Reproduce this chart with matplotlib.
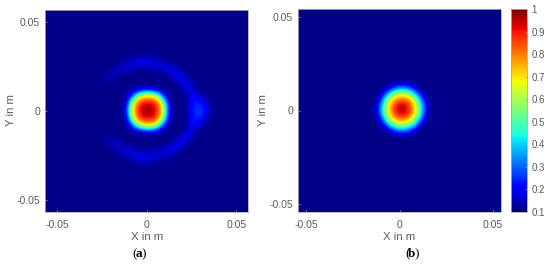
import numpy as np
import matplotlib
matplotlib.use("Agg")
import matplotlib.pyplot as plt
from matplotlib.colors import Normalize

plt.rcParams['font.family'] = ['Liberation Sans', 'DejaVu Sans']

W, H = 550, 265
_ = 0.11  # background level

# Panel (a): x = -30..36 mm, y = 33..-33 mm, 3 mm spacing
field_a = [
 [_,_,_,_,_,_,_,_,_,_,_,_,_,_,_,_,_,_,_,_,_,_,_],
 [_,_,_,_,_,_,_,_,.13,.14,.14,.13,.12,_,_,_,_,_,_,_,_,_,_],
 [_,_,_,_,_,_,.14,.17,.19,.20,.19,.18,.16,.14,_,_,_,_,_,_,_,_,_],
 [_,_,_,_,.14,.17,.19,.18,.14,.12,.14,.16,.18,.19,.19,.16,_,_,_,_,_,_,_],
 [_,_,_,.14,.16,.14,_,_,_,_,_,_,_,_,.17,.20,.18,.13,_,_,_,_,_],
 [_,_,.14,.14,.12,_,_,_,_,_,_,_,_,_,_,.16,.20,.17,_,_,_,_,_],
 [_,_,_,_,_,_,_,_,_,_,_,_,_,_,_,_,.14,.20,.16,_,_,_,_],
 [_,_,_,_,_,_,_,.13,.14,.15,.2,.16,.13,.12,_,_,_,.18,.18,.13,_,_,_],
 [_,_,_,_,_,_,_,.2,.4,.58,.62,.6,.42,.2,_,_,_,_,.19,.18,.13,_,_],
 [_,_,_,_,_,_,.13,.4,.72,.82,.84,.82,.74,.42,.13,_,_,_,.19,.23,.19,.13,_],
 [_,_,_,_,_,_,.16,.58,.82,.92,.95,.93,.84,.6,.17,_,_,_,.20,.25,.25,.17,_],
 [_,_,_,_,_,_,.2,.62,.84,.95,1.0,.96,.85,.63,.2,_,_,_,.20,.26,.26,.19,_],
 [_,_,_,_,_,_,.16,.58,.82,.92,.95,.93,.84,.6,.17,_,_,_,.20,.25,.25,.17,_],
 [_,_,_,_,_,_,.13,.4,.72,.82,.84,.82,.74,.42,.13,_,_,_,.19,.23,.19,.13,_],
 [_,_,_,_,_,_,_,.2,.4,.58,.62,.6,.42,.2,_,_,_,_,.20,.18,.13,_,_],
 [_,_,_,_,_,_,_,.12,.13,.15,.19,.16,.13,.12,_,_,_,.17,.19,.14,_,_,_],
 [_,_,.13,.14,_,_,_,_,_,_,_,_,_,_,_,_,.16,.20,.16,_,_,_,_],
 [_,_,_,.14,.16,.14,_,_,_,_,_,_,_,_,_,.17,.20,.17,_,_,_,_,_],
 [_,_,_,_,.14,.17,.16,.14,_,_,_,_,_,.14,.19,.20,.17,_,_,_,_,_,_],
 [_,_,_,_,_,.14,.17,.19,.18,.16,.16,.17,.18,.19,.18,.14,_,_,_,_,_,_,_],
 [_,_,_,_,_,_,_,.14,.19,.20,.19,.17,.14,.12,_,_,_,_,_,_,_,_,_],
 [_,_,_,_,_,_,_,_,_,.13,.13,_,_,_,_,_,_,_,_,_,_,_,_],
 [_,_,_,_,_,_,_,_,_,_,_,_,_,_,_,_,_,_,_,_,_,_,_],
]
extent_a = [-0.0315 + 0.0007, 0.0375 + 0.0007, -0.0345 + 0.0005, 0.0345 + 0.0005]

# Panel (b): x, y = +-15 mm, 3 mm spacing
field_b = [
 [_,_,_,_,_,_,_,_,_,_,_],
 [_,_,_,.15,.24,.28,.24,.15,_,_,_],
 [_,_,.2,.40,.52,.56,.52,.40,.2,_,_],
 [_,.15,.40,.61,.74,.78,.74,.61,.40,.15,_],
 [_,.24,.52,.74,.87,.92,.87,.74,.52,.24,_],
 [_,.28,.56,.78,.92,1.0,.92,.78,.56,.28,_],
 [_,.24,.52,.74,.87,.92,.87,.74,.52,.24,_],
 [_,.15,.40,.61,.74,.78,.74,.61,.40,.15,_],
 [_,_,.2,.40,.52,.56,.52,.40,.2,_,_],
 [_,_,_,.15,.24,.28,.24,.15,_,_,_],
 [_,_,_,_,_,_,_,_,_,_,_],
]
extent_b = [-0.0165 + 0.0012, 0.0165 + 0.0012, -0.0165 + 0.0005, 0.0165 + 0.0005]

xlim_a = 0.0567
xlim_b = 0.0543
ticks = [-0.05, 0, 0.05]
tick_labels = ['-0.05', '0', '0.05']
cbar_ticks = [0.1, 0.2, 0.3, 0.4, 0.5, 0.6, 0.7, 0.8, 0.9, 1]
cbar_labels = ['0.1', '0.2', '0.3', '0.4', '0.5', '0.6', '0.7', '0.8', '0.9', '1']

GREY = '#5c5c5c'
EDGE = '#a8a8ae'

fig = plt.figure(figsize=(W / 100, H / 100), dpi=100)
cmap = plt.get_cmap('jet')
norm = Normalize(0.1, 1.0)


def box(x0, y0, x1, y1):
    return [x0 / W, 1 - y1 / H, (x1 - x0) / W, (y1 - y0) / H]


def panel(rect, data, extent, lim, letter, letter_x, ylabel_x):
    ax = fig.add_axes(box(*rect))
    ax.set_facecolor(cmap(norm(_)))
    im = ax.imshow(data, cmap=cmap, norm=norm, extent=extent,
                   interpolation='bicubic', interpolation_stage='data', aspect='auto')
    ax.set_xlim(-lim, lim)
    ax.set_ylim(-lim, lim)
    ax.set_xticks(ticks, tick_labels)
    ax.set_yticks(ticks, tick_labels)
    ax.tick_params(length=1.5, width=0.5, direction='in', color=EDGE,
                   labelsize=7.6, labelcolor=GREY, pad=3.5)
    ax.tick_params(axis='x', pad=6)
    for s in ax.spines.values():
        s.set_color(EDGE)
        s.set_linewidth(0.6)
    fig.text((rect[0] + rect[2]) / 2 / W, 1 - 237 / H, 'X in m', fontsize=8.2,
             color=GREY, ha='center', va='center')
    fig.text(ylabel_x / W, 1 - 110.5 / H, 'Y in m', fontsize=8.2, color=GREY,
             rotation=90, ha='center', va='center')
    serif = dict(fontsize=9.5, color='black', family='Liberation Serif', va='center')
    fig.text((letter_x - 2.6) / W, 1 - 254 / H, '(', ha='right', **serif)
    fig.text(letter_x / W, 1 - 254 / H, letter, weight='bold', ha='center', **serif)
    fig.text((letter_x + 2.8) / W, 1 - 254 / H, ')', ha='left', **serif)
    return im


im = panel((45, 10, 248.5, 212), field_a, extent_a, xlim_a, 'a', 139, 11)
panel((298, 9, 501, 212), field_b, extent_b, xlim_b, 'b', 412, 263)

cax = fig.add_axes(box(511, 9, 527, 212))
cb = fig.colorbar(im, cax=cax, ticks=cbar_ticks)
cb.ax.set_yticklabels(cbar_labels)
cb.ax.tick_params(length=1.5, width=0.5, direction='in', color=EDGE, labelsize=7,
                  labelcolor=GREY, pad=3)
cb.outline.set_edgecolor(EDGE)
cb.outline.set_linewidth(0.6)

fig.savefig('out.png', dpi=100, facecolor='white')
